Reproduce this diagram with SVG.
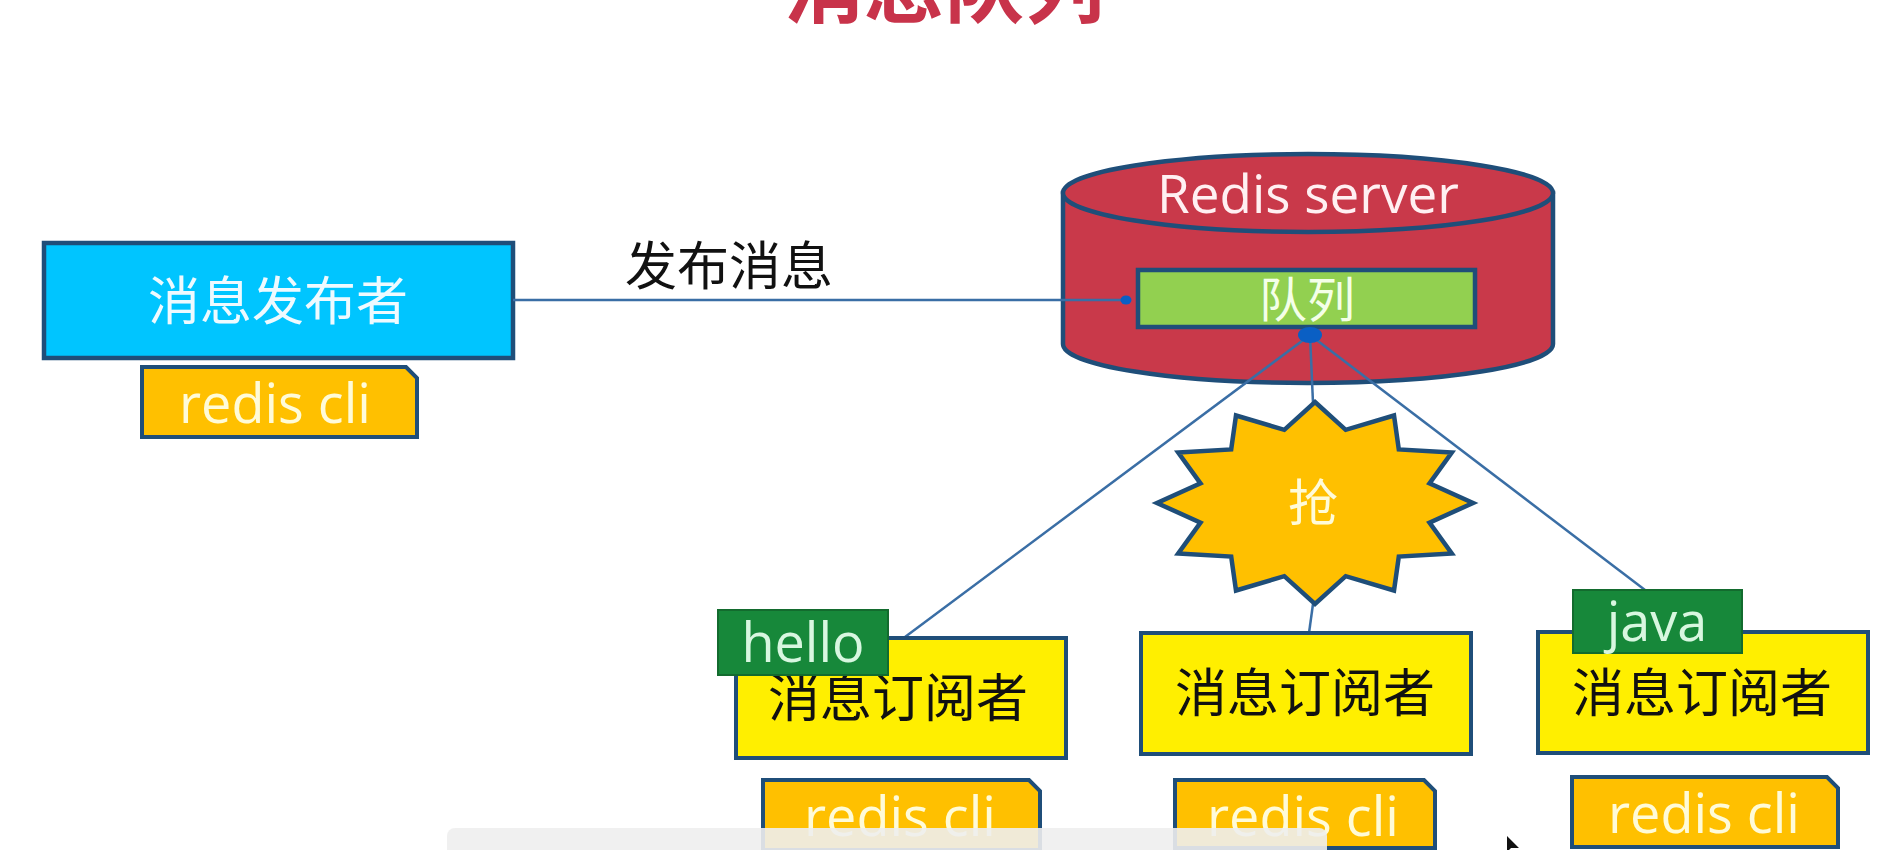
<svg xmlns="http://www.w3.org/2000/svg" width="1880" height="850" viewBox="0 0 1880 850">
<style>
.cjk{font-family:"Noto Sans CJK SC","Noto Sans",sans-serif;}
.lat{font-family:"Open Sans","Noto Sans CJK SC",sans-serif;}
.stk{stroke:#1f4e79;stroke-width:4.5;}
.tag{fill:#ffc000;stroke:#1f4e79;stroke-width:4;}
.tagtxt{fill:#fffbd8;font-size:54px;text-anchor:middle;}
.sub{fill:#ffef00;stroke:#1f4e79;stroke-width:4;}
.subtxt{fill:#111;font-size:52px;text-anchor:middle;}
.gtag{fill:#17883a;stroke:#136b2e;stroke-width:2;}
.gtxt{fill:#d8f7e0;font-size:54px;text-anchor:middle;}
.conn{stroke:#3a6ea5;stroke-width:2.5;fill:none;}
</style>
<defs>
<marker id="oval" viewBox="0 0 12 10" refX="10" refY="5" markerWidth="5" markerHeight="4" orient="auto" markerUnits="strokeWidth">
<ellipse cx="6" cy="5" rx="5.5" ry="4.5" fill="#0a5fc4"/>
</marker>
</defs>
<rect width="1880" height="850" fill="#ffffff"/>

<g id="title">
<text x="944" y="16" class="cjk" font-size="80" font-weight="bold" fill="#c8334a" text-anchor="middle">消息队列</text>
</g>

<g id="publisher">
<rect x="44" y="243" width="469" height="115" fill="#00c5ff" class="stk"/>
<text x="278" y="320" class="cjk" font-size="52" fill="#eefaff" text-anchor="middle">消息发布者</text>
</g>
<g id="publisher-cli">
<path d="M142,367 L406,367 L417,378 L417,437 L142,437 Z" class="tag"/>
<text x="275" y="423" class="lat tagtxt">redis cli</text>
</g>

<g id="redis-server">
<path d="M1063,193 L1063,344 A245,39 0 0 0 1553,344 L1553,193 Z" fill="#c9394a" class="stk"/>
<ellipse cx="1308" cy="193" rx="245" ry="39" fill="#c9394a" class="stk"/>
<text x="1308" y="213" class="lat" font-size="53" fill="#fff0f2" text-anchor="middle">Redis server</text>
</g>
<g id="queue">
<rect x="1138" y="270" width="337" height="57" fill="#92d050" class="stk"/>
<text x="1307" y="317" class="cjk" font-size="48" fill="#f4ffe8" text-anchor="middle">队列</text>
</g>

<g id="connectors">
<line x1="513" y1="300" x2="1130" y2="300" class="conn" marker-end="url(#oval)"/>
<text x="729" y="285" class="cjk" font-size="52" fill="#111" text-anchor="middle">发布消息</text>
<line x1="1310" y1="335" x2="905" y2="637" class="conn"/>
<line x1="1310" y1="335" x2="1313" y2="403" class="conn"/>
<line x1="1310" y1="335" x2="1645" y2="590" class="conn"/>
<line x1="1313" y1="604" x2="1309" y2="633" class="conn"/>
<ellipse cx="1310" cy="335" rx="12" ry="8" fill="#0a5fc4"/>
</g>

<g id="grab">
<polygon points="1315,402 1345.7,429.8 1394,415.5 1398.8,449.4 1451.8,452.5 1429.5,483.4 1473,503 1429.5,522.6 1451.8,553.5 1398.8,556.6 1394,590.5 1345.7,576.2 1315,604 1284.3,576.2 1236,590.5 1231.2,556.6 1178.2,553.5 1200.5,522.6 1157,503 1200.5,483.4 1178.2,452.5 1231.2,449.4 1236,415.5 1284.3,429.8" fill="#ffc000" stroke="#1f4e79" stroke-width="4.5" stroke-linejoin="miter"/>
<text x="1313" y="521" class="cjk" font-size="50" fill="#fffbd8" text-anchor="middle">抢</text>
</g>

<g id="subscriber-1">
<rect x="736" y="638" width="330" height="120" class="sub"/>
<text x="898" y="717" class="cjk subtxt">消息订阅者</text>
</g>
<g id="tag-hello">
<rect x="718" y="610" width="170" height="65" class="gtag"/>
<text x="803" y="662" class="lat gtxt">hello</text>
</g>
<g id="subscriber-1-cli">
<path d="M763,780 L1029,780 L1040,791 L1040,850 L763,850 Z" class="tag"/>
<text x="900" y="836" class="lat tagtxt">redis cli</text>
</g>

<g id="subscriber-2">
<rect x="1141" y="633" width="330" height="121" class="sub"/>
<text x="1305" y="712" class="cjk subtxt">消息订阅者</text>
</g>
<g id="subscriber-2-cli">
<path d="M1175,780 L1424,780 L1435,791 L1435,848 L1175,848 Z" class="tag"/>
<text x="1303" y="836" class="lat tagtxt">redis cli</text>
</g>

<g id="subscriber-3">
<rect x="1538" y="632" width="330" height="121" class="sub"/>
<text x="1702" y="712" class="cjk subtxt">消息订阅者</text>
</g>
<g id="tag-java">
<rect x="1573" y="590" width="169" height="63" class="gtag"/>
<text x="1657" y="641" class="lat gtxt">java</text>
</g>
<g id="subscriber-3-cli">
<path d="M1572,777 L1827,777 L1838,788 L1838,847 L1572,847 Z" class="tag"/>
<text x="1704" y="833" class="lat tagtxt">redis cli</text>
</g>

<g id="overlay">
<rect x="447" y="828" width="880" height="40" rx="8" fill="#eeeeee" opacity="0.9"/>
<polygon points="1507,836 1507,852 1511,848 1519,848" fill="#111"/>
</g>
</svg>
